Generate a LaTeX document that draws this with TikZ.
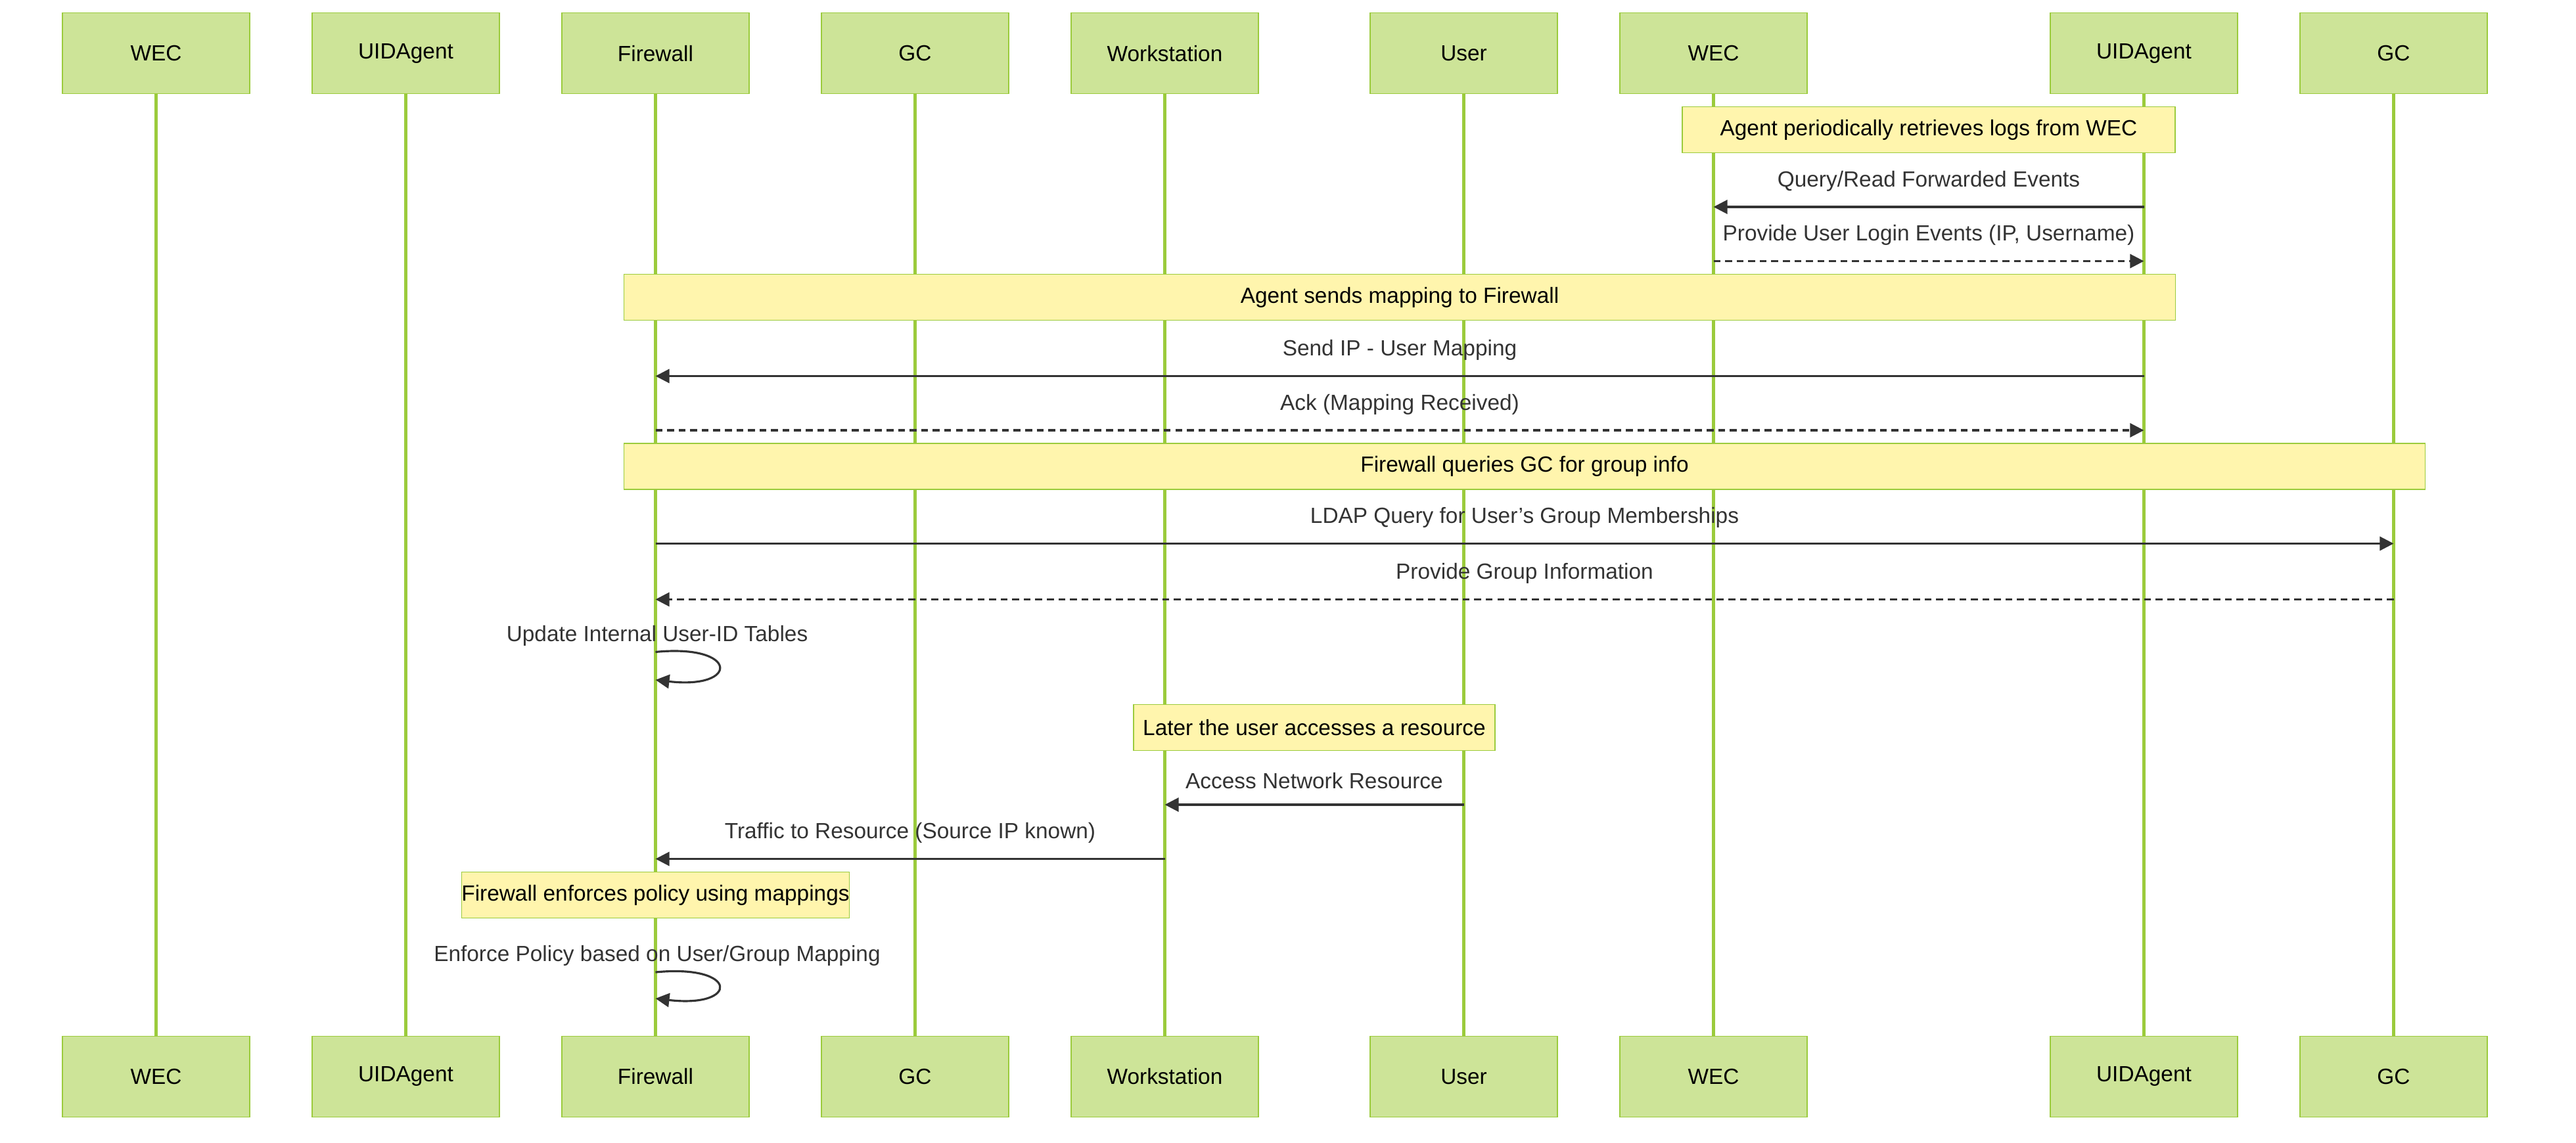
\documentclass[tikz,border=0pt]{standalone}
\usepackage{fontspec}
\setmainfont{Liberation Sans}
\usetikzlibrary{arrows.meta}
\definecolor{actfill}{HTML}{CDE498}
\definecolor{actline}{HTML}{9BCB3C}
\definecolor{notefill}{HTML}{FFF5AD}
\definecolor{msgtext}{HTML}{333333}
\tikzset{
  actor/.style={rectangle,draw=actline,fill=actfill,minimum width=2.85cm,minimum height=1.23cm,font=\fontsize{9.5}{11}\selectfont,inner sep=0pt},
  note/.style={rectangle,draw=actline,fill=notefill,minimum height=0.7cm,font=\fontsize{9.5}{11}\selectfont,inner sep=0pt},
  life/.style={draw=actline,line width=1.2pt},
  msg/.style={draw=msgtext,line width=0.9pt,-{Triangle[length=6pt,width=6pt]}},
  reply/.style={msg,dashed,dash pattern=on 3pt off 2pt},
  lbl/.style={text=msgtext,font=\fontsize{9.5}{11}\selectfont}
}
\begin{document}
\begin{tikzpicture}[x=0.025cm,y=-0.025cm]
\useasboundingbox (0,0) rectangle (1568,696);
% actors
\foreach \n/\x/\t in {wecA/95/WEC,uidA/247/UIDAgent,fw/399/Firewall,gcA/557/GC,ws/709/Workstation,usr/891/User,wecB/1043/WEC,uidB/1305/UIDAgent,gcB/1457/GC}{
  \draw[life] (\x,57) -- (\x,631);
  \node[actor] (\n-top) at (\x,32.5) {\t};
  \node[actor] (\n-bot) at (\x,655.5) {\t};
}
% notes
\node[note,minimum width=7.5cm] (n1) at (1174,79) {Agent periodically retrieves logs from WEC};
\node[note,minimum width=23.6cm] (n2) at (852,181) {Agent sends mapping to Firewall};
\node[note,minimum width=27.4cm] (n3) at (928,284) {Firewall queries GC for group info};
\node[note,minimum width=5.5cm] (n4) at (800,443) {Later the user accesses a resource};
\node[note,minimum width=5.35cm] (n5) at (399,545) {Firewall enforces policy using mappings};
% message ends
\foreach \y in {126,159,229,262,331,365,490,523}{
  \coordinate (wecB-\y) at (1043,\y);
  \coordinate (uidB-\y) at (1305,\y);
  \coordinate (fw-\y) at (399,\y);
  \coordinate (gcB-\y) at (1457,\y);
  \coordinate (ws-\y) at (709,\y);
  \coordinate (usr-\y) at (891,\y);
}
\draw[msg] (uidB-126) -- (wecB-126) node[lbl,midway,above=3pt] {Query/Read Forwarded Events};
\draw[reply] (wecB-159) -- (uidB-159) node[lbl,midway,above=3pt] {Provide User Login Events (IP, Username)};
\draw[msg] (uidB-229) -- (fw-229) node[lbl,midway,above=3pt] {Send IP - User Mapping};
\draw[reply] (fw-262) -- (uidB-262) node[lbl,midway,above=3pt] {Ack (Mapping Received)};
\draw[msg] (fw-331) -- (gcB-331) node[lbl,midway,above=3pt] {LDAP Query for User's Group Memberships};
\draw[reply] (gcB-365) -- (fw-365) node[lbl,midway,above=3pt] {Provide Group Information};
\draw[msg] (usr-490) -- (ws-490) node[lbl,midway,above=3pt] {Access Network Resource};
\draw[msg] (ws-523) -- (fw-523) node[lbl,midway,above=3pt] {Traffic to Resource (Source IP known)};
% self calls
\coordinate (fw-s1) at (399,397); \coordinate (fw-e1) at (399,414);
\node[lbl] (l1) at (400,387) {Update Internal User-ID Tables};
\draw[msg] (fw-s1) .. controls (450,392) and (450,420) .. (fw-e1);
\coordinate (fw-s2) at (399,592); \coordinate (fw-e2) at (399,608);
\node[lbl] (l2) at (400,582) {Enforce Policy based on User/Group Mapping};
\draw[msg] (fw-s2) .. controls (450,587) and (450,614) .. (fw-e2);
\end{tikzpicture}
\end{document}
